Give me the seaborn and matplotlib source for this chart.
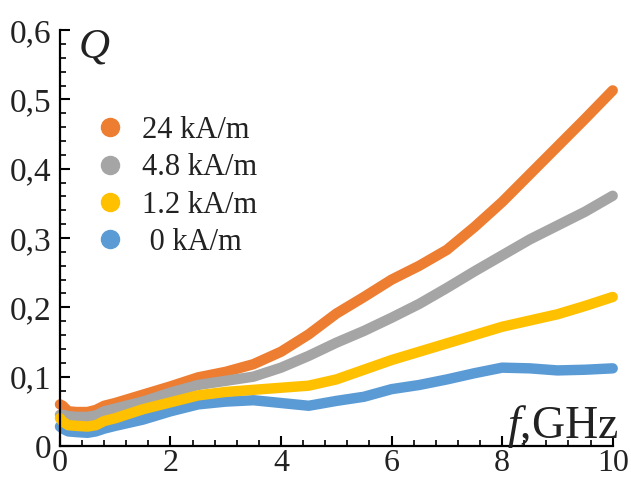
import numpy as np
import pandas as pd
import seaborn as sns
import matplotlib
matplotlib.use("Agg")
import matplotlib.pyplot as plt
from matplotlib.lines import Line2D

# ---- data ----
freq = [0.0, 0.05, 0.15, 0.3, 0.5, 0.65, 0.8, 1.0, 1.5, 2.0, 2.5, 3.0, 3.5,
        4.0, 4.5, 5.0, 5.5, 6.0, 6.5, 7.0, 7.5, 8.0, 8.5, 9.0, 9.5, 10.0]
q_24 = [0.060, 0.058, 0.050, 0.049, 0.049, 0.052, 0.058, 0.062, 0.074, 0.086,
        0.099, 0.107, 0.118, 0.136, 0.161, 0.191, 0.215, 0.240, 0.260, 0.283,
        0.316, 0.352, 0.392, 0.432, 0.472, 0.513]
q_48 = [0.045, 0.045, 0.043, 0.042, 0.042, 0.044, 0.050, 0.054, 0.064, 0.077,
        0.088, 0.094, 0.100, 0.113, 0.130, 0.149, 0.166, 0.185, 0.205, 0.228,
        0.252, 0.275, 0.298, 0.318, 0.338, 0.361]
q_12 = [0.040, 0.035, 0.030, 0.029, 0.028, 0.030, 0.036, 0.040, 0.053, 0.063,
        0.073, 0.078, 0.081, 0.084, 0.087, 0.096, 0.110, 0.124, 0.136, 0.148,
        0.160, 0.172, 0.181, 0.190, 0.202, 0.215]
q_0 = [0.028, 0.025, 0.021, 0.020, 0.019, 0.021, 0.025, 0.029, 0.038, 0.050,
       0.060, 0.064, 0.066, 0.062, 0.058, 0.065, 0.071, 0.082, 0.088, 0.096,
       0.105, 0.113, 0.112, 0.109, 0.110, 0.112]

labels = ["24 kA/m", "4.8 kA/m", "1.2 kA/m", " 0 kA/m"]
series = [q_24, q_48, q_12, q_0]
colors = ["#ED7D31", "#A5A5A5", "#FFC000", "#5B9BD5"]
yticks = [0, 0.1, 0.2, 0.3, 0.4, 0.5, 0.6]
ytick_labels = ["0", "0,1", "0,2", "0,3", "0,4", "0,5", "0,6"]
xticks = [0, 2, 4, 6, 8, 10]

df = pd.DataFrame({
    "f": np.tile(freq, len(labels)),
    "Q": np.concatenate(series),
    "field": np.repeat(labels, len(freq)),
})

sns.set_theme(style="ticks")
plt.rcParams["font.family"] = ["Liberation Serif", "DejaVu Serif"]
plt.rcParams["mathtext.fontset"] = "custom"
plt.rcParams["mathtext.it"] = "Liberation Serif:italic"
plt.rcParams["mathtext.rm"] = "Liberation Serif"

fig = plt.figure(figsize=(6.31, 4.78), dpi=100)
ax = fig.add_axes([0.095, 0.067, 0.876, 0.870])

palette = dict(zip(labels, colors))
draw_order = [labels[0], labels[1], labels[3], labels[2]]
sns.lineplot(data=df, x="f", y="Q", hue="field", hue_order=draw_order,
             palette=palette, linewidth=7.5, solid_capstyle="round",
             solid_joinstyle="round", legend=False, ax=ax, clip_on=False)

ax.set_xlim(0, 10)
ax.set_ylim(0, 0.6)
ax.set_xticks(xticks)
ax.set_xticklabels([str(t) for t in xticks])
ax.set_yticks(yticks)
ax.set_yticklabels(ytick_labels)
ax.set_xticks(np.arange(0, 10.01, 0.4), minor=True)
ax.set_yticks(np.arange(0, 0.601, 0.02), minor=True)
ax.set_xlabel("")
ax.set_ylabel("")

for s in ["top", "right"]:
    ax.spines[s].set_visible(False)
for s in ["left", "bottom"]:
    ax.spines[s].set_linewidth(1.6)
    ax.spines[s].set_color("black")

ax.tick_params(which="major", direction="in", length=7, width=1.5,
               labelsize=24, colors="black", labelcolor="#222222")
ax.tick_params(which="minor", direction="in", length=4, width=1.2,
               colors="black")
ax.tick_params(axis="y", which="major", pad=6)
ax.tick_params(axis="x", which="major", pad=2, labelsize=23)

ax.text(0.061, 0.933, "Q", transform=ax.transAxes, fontsize=31,
        fontstyle="italic", ha="center", va="baseline", color="#222222")
ax.text(1.010, 0.020, r"$f$,GHz", transform=ax.transAxes, fontsize=33,
        ha="right", va="baseline", color="#222222")

handles = [Line2D([], [], marker="o", linestyle="", color=c, markersize=13)
           for c in colors]
leg = ax.legend(handles, labels, loc="upper left",
                bbox_to_anchor=(0.036, 0.83), frameon=False, fontsize=22,
                handlelength=1.0, handletextpad=0.55, labelspacing=0.27,
                borderpad=0)
for t in leg.get_texts():
    t.set_color("#222222")

fig.savefig("out.png", dpi=100)
